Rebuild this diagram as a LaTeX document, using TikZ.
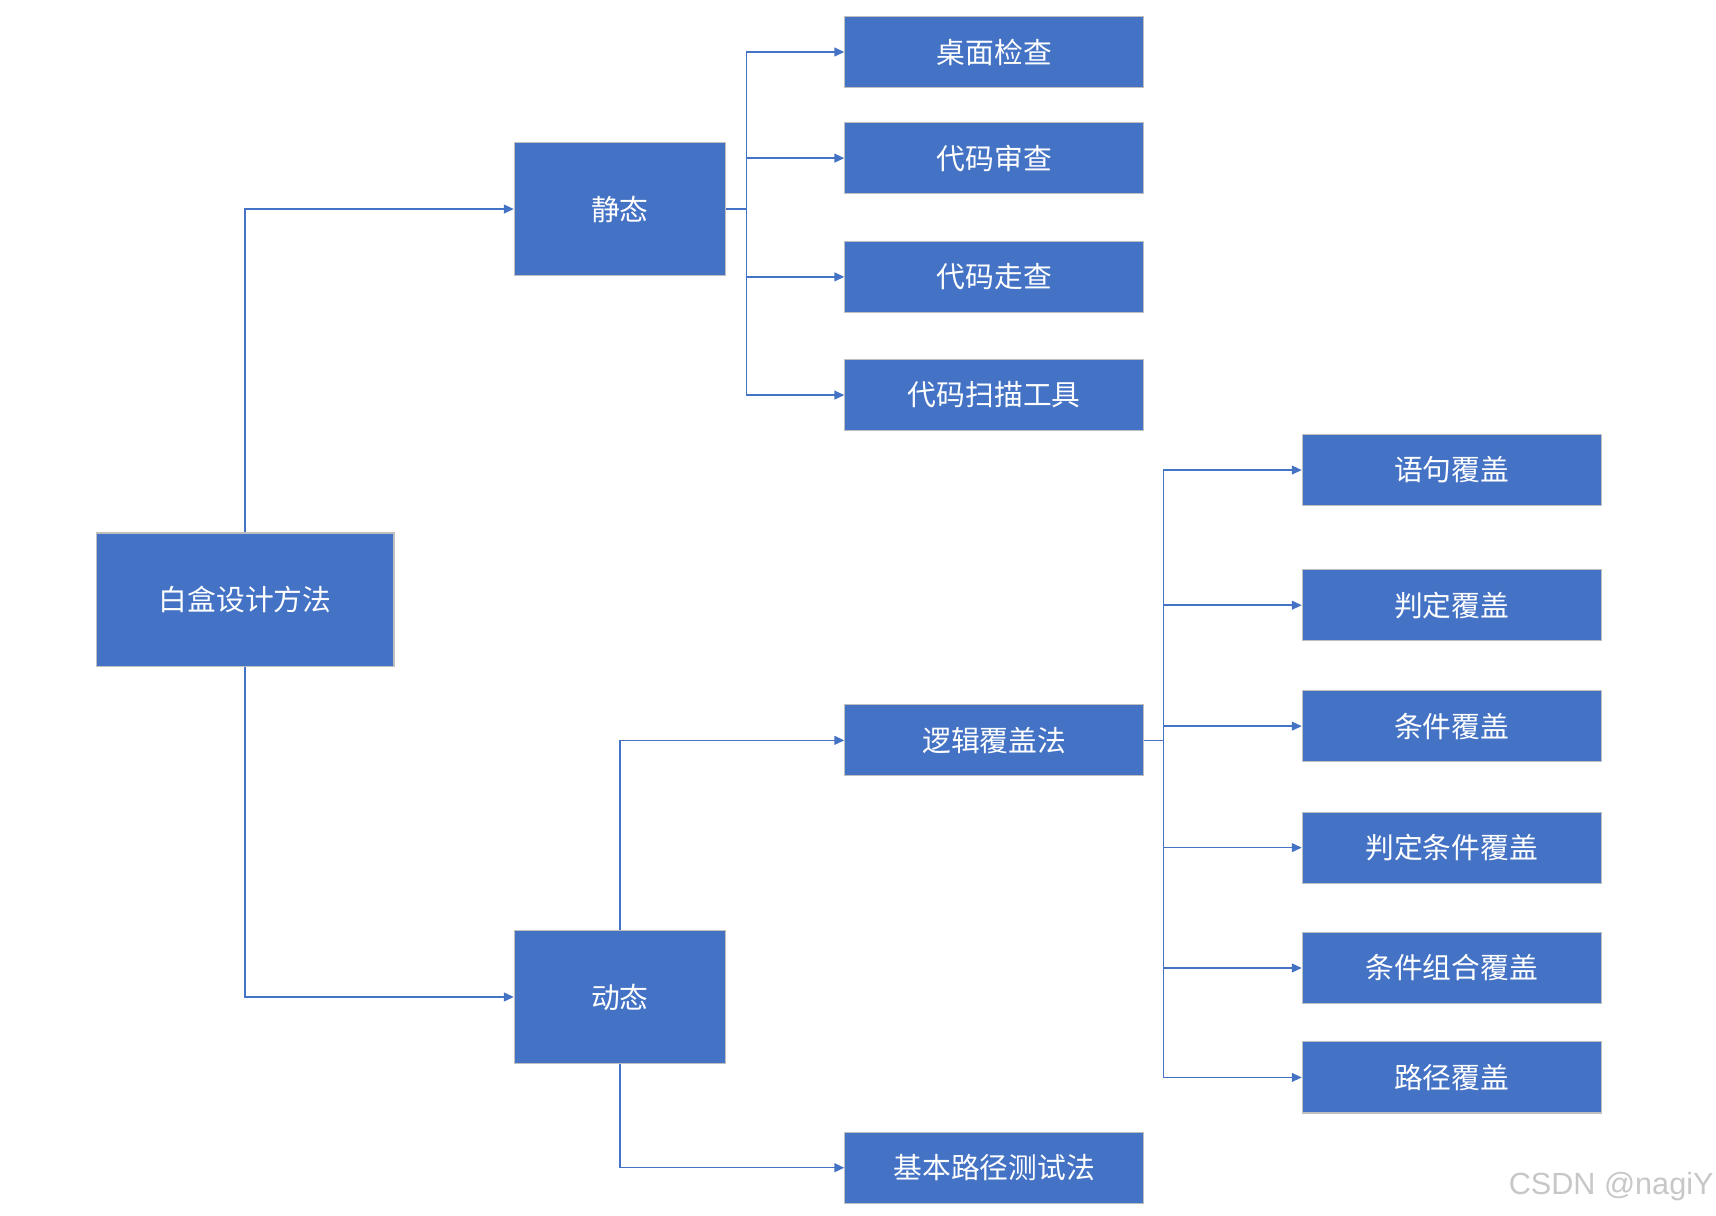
\documentclass[tikz,border=0pt]{standalone}
\usepackage{fontspec}
\newfontfamily\cjk{Noto Sans CJK SC}
\newfontfamily\wm{Liberation Sans}
\usetikzlibrary{arrows.meta}
\definecolor{boxblue}{HTML}{4472C4}
\definecolor{boxedge}{HTML}{BFBFBF}
\begin{document}
\begin{tikzpicture}[x=1pt,y=-1pt,
  box/.style={draw=boxedge,line width=1pt,fill=boxblue,text=white,inner sep=0pt,
    font=\cjk\fontsize{26.3}{30}\selectfont},
  bigbox/.style={box,minimum width=272pt,minimum height=122pt},
  midbox/.style={box,minimum width=193pt,minimum height=122pt},
  leaf/.style={box,minimum width=273pt,minimum height=65pt},
  conn/.style={draw=boxblue,line width=1.4pt},
  arr/.style={conn,-{Triangle[length=9pt,width=8pt]}}]
\useasboundingbox (0,0) rectangle (1568,1111);
% nodes
\node[bigbox] (root) at (224,548) {白盒设计方法};
\node[midbox] (static) at (566.5,191) {静态};
\node[midbox] (dyn) at (566.5,911) {动态};
\node[leaf] (s1) at (908.5,47.5) {桌面检查};
\node[leaf] (s2) at (908.5,144.5) {代码审查};
\node[leaf] (s3) at (908.5,253) {代码走查};
\node[leaf] (s4) at (908.5,361) {代码扫描工具};
\node[leaf] (logic) at (908.5,676.5) {逻辑覆盖法};
\node[leaf] (basic) at (908.5,1067) {基本路径测试法};
\node[leaf] (c1) at (1326.5,429.5) {语句覆盖};
\node[leaf] (c2) at (1326.5,553) {判定覆盖};
\node[leaf] (c3) at (1326.5,663.5) {条件覆盖};
\node[leaf] (c4) at (1326.5,774.5) {判定条件覆盖};
\node[leaf] (c5) at (1326.5,884.5) {条件组合覆盖};
\node[leaf] (c6) at (1326.5,984.5) {路径覆盖};
\node[anchor=east,text=black!22,font=\wm\fontsize{28}{32}\selectfont,inner sep=0pt] (wmark) at (1566,1084) {CSDN @nagiY};
% connectors
\draw[arr] (root.north) |- (static.west);
\draw[arr] (root.south) |- (dyn.west);
\coordinate (sb) at (682,191);
\draw[conn] (static.east) -- (sb);
\foreach \n in {s1,s2,s3,s4} \draw[arr] (sb) |- (\n.west);
\draw[arr] (dyn.north) |- (logic.west);
\draw[arr] (dyn.south) |- (basic.west);
\coordinate (lb) at (1063,676.5);
\draw[conn] (logic.east) -- (lb);
\foreach \n in {c1,c2,c3,c4,c5,c6} \draw[arr] (lb) |- (\n.west);
\end{tikzpicture}
\end{document}
